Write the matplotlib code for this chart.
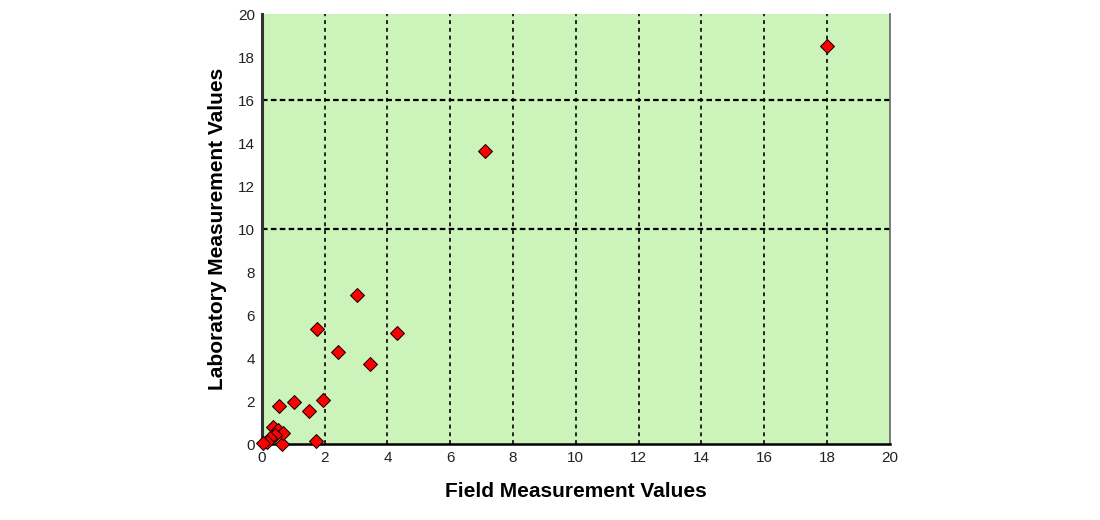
import matplotlib.pyplot as plt
import numpy as np

plt.rcParams['font.family'] = ['Liberation Sans', 'DejaVu Sans']

# Valori
campo = np.array([18.0, 7.1, 3.04, 1.75, 4.32, 2.44, 3.44, 1.04, 0.55, 1.51, 1.96,
                  1.73, 0.64, 0.37, 0.53, 0.67, 0.42, 0.26, 0.16, 0.05])
laboratorio = np.array([18.5, 13.65, 6.95, 5.33, 5.15, 4.28, 3.71, 1.95, 1.77, 1.55, 2.05,
                        0.14, 0.0, 0.81, 0.65, 0.53, 0.42, 0.26, 0.11, 0.03])
tick_valori = [0, 2, 4, 6, 8, 10, 12, 14, 16, 18, 20]
griglia_x = [2, 4, 6, 8, 10, 12, 14, 16, 18]
griglia_y = [10, 16]

fig = plt.figure(figsize=(11, 5.2), dpi=100)
ax = fig.add_axes([0.238, 0.146, 0.571, 0.827])
ax.set_facecolor('#ccf3ba')

for gx in griglia_x:
    ax.axvline(gx, color='#222222', linestyle=(0, (2, 2)), linewidth=1.4, zorder=1)
for gy in griglia_y:
    ax.axhline(gy, color='black', linestyle=(0, (2.5, 1.5)), linewidth=1.6, zorder=1)

ax.plot(campo, laboratorio, linestyle='none', marker='D', markersize=7,
        markerfacecolor='#ff0000', markeredgecolor='black', markeredgewidth=0.7,
        clip_on=False, zorder=3)

ax.set_xlim(0, 20)
ax.set_ylim(0, 20)
ax.set_xticks(tick_valori)
ax.set_yticks(tick_valori)
ax.tick_params(axis='both', length=0, labelsize=11, colors='#222222', pad=5)

ax.spines['top'].set_visible(False)
ax.spines['left'].set_color('#333333')
ax.spines['left'].set_linewidth(2.2)
ax.spines['bottom'].set_color('black')
ax.spines['bottom'].set_linewidth(1.8)
ax.spines['right'].set_color('#666666')
ax.spines['right'].set_linewidth(1.2)

ax.set_xlabel('Field Measurement Values', fontsize=15, fontweight='bold', labelpad=12)
ax.set_ylabel('Laboratory Measurement Values', fontsize=15, fontweight='bold', labelpad=8)

plt.savefig('out.png', dpi=100)
